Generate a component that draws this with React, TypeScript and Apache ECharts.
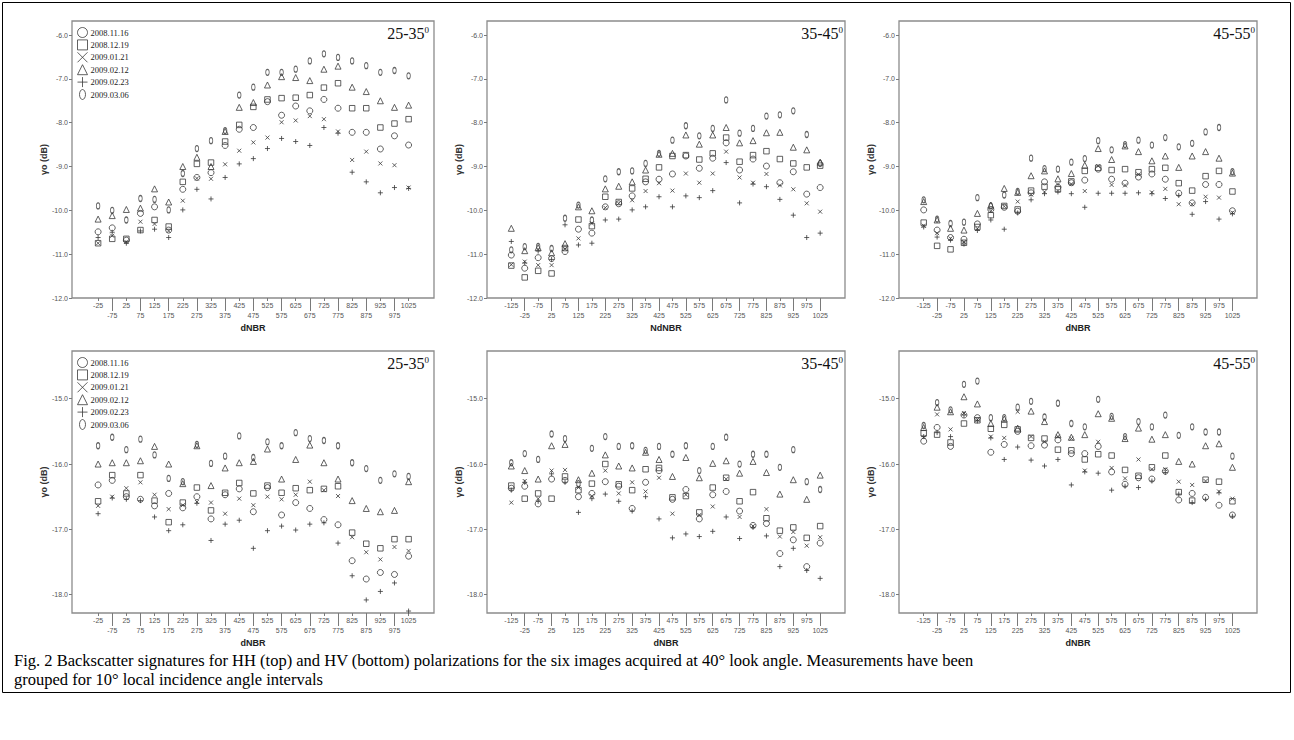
import { useEffect, useRef } from 'react';
import * as echarts from 'echarts';

const SERIES_NAMES = ['2008.11.16', '2008.12.19', '2009.01.21', '2009.02.12', '2009.02.23', '2009.03.06'];

const CATS_A = ['-25', '-75', '25', '75', '125', '175', '225', '275', '325', '375', '425', '475', '525', '575', '625', '675', '725', '775', '825', '875', '925', '975', '1025'];
const CATS_B = ['-125', '-25', '-75', '25', '75', '125', '175', '225', '275', '325', '375', '425', '475', '525', '575', '625', '675', '725', '775', '825', '875', '925', '975', '1025'];

const Y_TICKS_HH = [-12, -11, -10, -9, -8, -7, -6];
const Y_TICKS_HV = [-18, -17, -16, -15];

// HH 25-35
const HH2535_081116 = [-10.49, -10.40, -10.68, -10.07, -9.92, -10.45, -9.52, -9.25, -9.14, -8.52, -8.15, -8.11, -7.52, -7.83, -7.62, -7.73, -7.47, -7.67, -8.22, -8.22, -8.60, -8.30, -8.51];
const HH2535_081219 = [-10.75, -10.65, -10.65, -10.45, -10.22, -10.37, -9.35, -8.94, -8.91, -8.43, -8.05, -7.64, -7.47, -7.44, -7.43, -7.37, -7.20, -7.10, -7.67, -7.67, -8.11, -8.02, -7.92];
const HH2535_090121 = [-10.75, -10.58, -10.72, -10.26, -10.31, -10.47, -9.78, -9.27, -9.28, -8.95, -8.64, -8.45, -8.34, -7.99, -7.95, -7.85, -7.92, -8.20, -8.85, -8.66, -8.93, -8.97, -9.48];
const HH2535_090212 = [-10.20, -10.12, -9.98, -9.95, -9.51, -9.81, -9.00, -8.79, -9.00, -8.20, -7.65, -7.54, -7.14, -6.95, -6.97, -7.04, -6.78, -6.71, -7.19, -7.29, -7.50, -7.65, -7.60];
const HH2535_090223 = [-10.62, -10.50, -10.75, -10.47, -10.43, -10.62, -9.99, -9.52, -9.74, -9.25, -8.94, -8.82, -8.59, -8.36, -8.43, -8.52, -8.11, -8.24, -9.13, -9.35, -9.60, -9.48, -9.50];
const HH2535_090306 = [-9.90, -10.00, -10.22, -9.73, -9.75, -9.99, -9.16, -8.59, -8.41, -8.18, -7.37, -7.19, -6.85, -6.85, -6.78, -6.59, -6.43, -6.51, -6.59, -6.70, -6.85, -6.81, -6.93];

// HH 35-45
const HH3545_081116 = [-11.02, -11.32, -11.08, -11.10, -10.94, -10.43, -10.52, -9.92, -9.85, -9.67, -9.35, -9.29, -9.17, -8.76, -9.04, -8.81, -8.46, -9.08, -8.83, -8.99, -9.37, -9.12, -9.63, -9.48];
const HH3545_081219 = [-11.26, -11.53, -11.38, -11.44, -10.86, -10.21, -10.36, -9.69, -9.81, -9.50, -9.28, -9.02, -8.76, -8.74, -8.84, -8.70, -8.34, -8.89, -8.74, -8.65, -8.83, -8.93, -9.02, -8.98];
const HH3545_090121 = [-11.24, -11.17, -11.25, -11.25, -10.88, -10.64, -10.30, -9.94, -9.84, -9.77, -9.56, -9.38, -9.55, -9.16, -9.37, -9.16, -8.66, -9.25, -9.37, -9.17, -9.43, -9.52, -9.84, -10.03];
const HH3545_090212 = [-10.41, -10.92, -10.85, -10.97, -10.76, -9.92, -10.01, -9.51, -9.45, -9.35, -9.08, -8.72, -8.70, -8.28, -8.49, -8.28, -8.11, -8.46, -8.41, -8.23, -8.22, -8.56, -8.62, -8.90];
const HH3545_090223 = [-10.71, -11.20, -10.93, -11.12, -10.33, -10.79, -10.75, -10.22, -10.20, -9.99, -9.92, -9.69, -9.92, -9.67, -9.71, -9.55, -8.91, -9.83, -9.40, -9.46, -9.75, -10.11, -10.62, -10.52];
const HH3545_090306 = [-10.90, -10.83, -10.82, -10.87, -10.18, -9.88, -10.22, -9.28, -9.12, -9.10, -8.93, -8.70, -8.40, -8.07, -8.30, -8.13, -7.48, -8.24, -8.13, -7.85, -7.82, -7.73, -8.27, -8.93];

// HH 45-55
const HH4555_081116 = [-9.99, -10.45, -10.62, -10.66, -10.31, -9.98, -9.93, -10.02, -9.60, -9.35, -9.47, -9.37, -9.31, -9.06, -9.29, -9.38, -9.24, -9.17, -9.29, -9.61, -9.83, -9.41, -9.41, -10.01];
const HH4555_081219 = [-10.28, -10.81, -10.89, -10.74, -10.38, -10.11, -9.90, -9.98, -9.55, -9.46, -9.52, -9.34, -9.10, -9.03, -9.08, -9.06, -9.13, -9.06, -9.03, -9.38, -9.55, -9.22, -9.10, -9.57];
const HH4555_090121 = [-10.35, -10.52, -10.64, -10.72, -10.42, -10.02, -9.91, -9.80, -9.64, -9.58, -9.41, -9.40, -9.56, -8.99, -9.42, -9.43, -9.18, -9.59, -9.51, -9.86, -9.86, -9.69, -9.71, -10.05];
const HH4555_090212 = [-9.80, -10.22, -10.41, -10.45, -10.07, -9.88, -9.50, -9.59, -9.21, -9.10, -9.28, -9.16, -8.97, -8.59, -8.84, -8.53, -8.66, -8.87, -8.76, -9.02, -8.76, -8.66, -8.81, -9.15];
const HH4555_090223 = [-10.38, -10.61, -10.68, -10.77, -10.46, -10.22, -10.43, -10.06, -9.76, -9.62, -9.58, -9.62, -9.93, -9.61, -9.61, -9.61, -9.60, -9.62, -9.73, -9.66, -10.09, -9.80, -10.20, -10.08];
const HH4555_090306 = [-9.76, -10.20, -10.30, -10.27, -9.71, -9.90, -9.65, -9.57, -8.81, -9.05, -9.06, -8.90, -8.82, -8.41, -8.62, -8.50, -8.40, -8.51, -8.34, -8.55, -8.47, -8.21, -8.11, -9.12];

// HV 25-35
const HV2535_081116 = [-16.32, -16.25, -16.50, -16.54, -16.64, -16.45, -16.67, -16.50, -16.84, -16.47, -16.38, -16.73, -16.36, -16.78, -16.59, -16.68, -16.85, -16.93, -17.48, -17.76, -17.66, -17.69, -17.41];
const HV2535_081219 = [-16.57, -16.17, -16.45, -16.17, -16.56, -16.89, -16.59, -16.36, -16.71, -16.44, -16.29, -16.45, -16.33, -16.44, -16.37, -16.40, -16.38, -16.34, -17.05, -17.22, -17.29, -17.15, -17.15];
const HV2535_090121 = [-16.64, -16.50, -16.37, -16.28, -16.47, -16.69, -16.63, -16.58, -16.59, -16.76, -16.53, -16.63, -16.50, -16.54, -16.47, -16.27, -16.40, -16.49, -17.12, -17.35, -17.46, -17.27, -17.33];
const HV2535_090212 = [-16.00, -15.98, -15.98, -15.95, -15.73, -16.00, -16.30, -15.72, -16.33, -16.06, -15.98, -15.96, -15.77, -16.23, -15.93, -15.71, -15.98, -16.23, -16.56, -16.68, -16.73, -16.71, -16.27];
const HV2535_090223 = [-16.76, -16.52, -16.54, -16.56, -16.81, -17.02, -16.93, -16.60, -17.17, -16.92, -16.86, -17.29, -17.02, -16.95, -17.01, -16.92, -16.90, -17.21, -17.71, -18.08, -17.95, -17.82, -18.25];
const HV2535_090306 = [-15.72, -15.59, -15.78, -15.62, -15.86, -16.22, -16.27, -15.70, -15.99, -15.88, -15.57, -15.90, -15.66, -15.72, -15.52, -15.61, -15.64, -15.72, -15.98, -16.07, -16.25, -16.15, -16.19];

// HV 35-45
const HV3545_081116 = [-16.37, -16.34, -16.61, -16.23, -16.25, -16.50, -16.45, -16.27, -16.34, -16.68, -16.28, -16.10, -16.54, -16.39, -16.84, -16.47, -16.42, -16.72, -16.94, -16.91, -17.37, -17.16, -17.57, -17.21];
const HV3545_081219 = [-16.33, -16.53, -16.45, -16.53, -16.19, -16.40, -16.30, -16.00, -16.31, -16.40, -16.08, -16.06, -16.51, -16.49, -16.74, -16.36, -16.21, -16.57, -16.43, -16.83, -17.02, -16.97, -17.13, -16.95];
const HV3545_090121 = [-16.59, -16.26, -16.53, -16.10, -16.09, -16.36, -16.49, -16.10, -16.45, -16.28, -16.42, -16.21, -16.76, -16.47, -16.78, -16.65, -16.23, -16.81, -16.95, -16.69, -17.11, -17.04, -17.25, -17.12];
const HV3545_090212 = [-16.03, -16.10, -16.23, -15.72, -15.70, -16.24, -16.14, -15.86, -16.03, -16.06, -15.82, -15.93, -16.19, -15.90, -16.21, -15.99, -15.95, -16.14, -15.96, -16.13, -16.46, -16.24, -16.54, -16.17];
const HV3545_090223 = [-16.40, -16.28, -16.57, -16.15, -16.28, -16.74, -16.53, -16.46, -16.57, -16.72, -16.50, -16.84, -17.13, -17.07, -17.11, -17.03, -16.81, -17.14, -16.97, -17.10, -17.57, -17.29, -17.63, -17.75];
const HV3545_090306 = [-15.98, -15.84, -15.93, -15.54, -15.61, -16.30, -15.76, -15.58, -15.73, -15.72, -15.79, -15.73, -15.85, -15.72, -16.10, -15.73, -15.59, -16.00, -15.85, -15.85, -16.05, -15.78, -16.27, -16.39];

// HV 45-55
const HV4555_081116 = [-15.65, -15.44, -15.73, -15.25, -15.29, -15.82, -15.70, -15.50, -15.72, -15.71, -15.63, -15.84, -15.84, -15.73, -16.12, -16.31, -16.21, -16.23, -16.11, -16.55, -16.45, -16.51, -16.63, -16.78];
const HV4555_081219 = [-15.53, -15.55, -15.67, -15.38, -15.33, -15.46, -15.40, -15.47, -15.60, -15.61, -15.78, -15.79, -15.93, -15.85, -15.87, -16.09, -16.18, -16.05, -15.87, -16.43, -16.56, -16.24, -16.27, -16.57];
const HV4555_090121 = [-15.59, -15.24, -15.47, -15.22, -15.32, -15.58, -15.60, -15.20, -15.58, -15.66, -15.58, -15.61, -16.10, -15.66, -16.06, -16.22, -15.93, -16.08, -16.08, -16.27, -16.32, -16.26, -16.42, -16.53];
const HV4555_090212 = [-15.44, -15.13, -15.20, -14.97, -15.08, -15.38, -15.31, -15.45, -15.19, -15.35, -15.55, -15.59, -15.55, -15.23, -15.30, -15.61, -15.45, -15.62, -15.55, -15.96, -16.00, -15.72, -15.69, -16.05];
const HV4555_090223 = [-15.58, -15.52, -15.58, -15.25, -15.34, -15.60, -15.93, -15.74, -15.94, -16.03, -15.93, -16.32, -16.12, -16.14, -16.40, -16.34, -16.36, -16.26, -16.13, -16.46, -16.59, -16.54, -16.44, -16.80];
const HV4555_090306 = [-15.41, -15.06, -15.17, -14.78, -14.73, -15.29, -15.29, -15.13, -15.04, -15.28, -15.07, -15.38, -15.43, -15.01, -15.27, -15.58, -15.35, -15.43, -15.25, -15.56, -15.43, -15.51, -15.51, -15.88];

const MARKERS: any[] = [
  { symbol: 'circle', size: 6 },
  { symbol: 'rect', size: 5.5 },
  { symbol: 'path://M0,0L10,10M10,0L0,10', size: 4 },
  { symbol: 'triangle', size: 6 },
  { symbol: 'path://M5,0L5,10M0,5L10,5', size: 5 },
  { symbol: 'path://M5,0A3,5,0,1,0,5,10A3,5,0,1,0,5,0Z', size: [3.5, 6] },
];

const PANELS = [
  { title: '25-35', xName: 'dNBR', cats: CATS_A, left: 72, top: 21, width: 362, height: 277, xMin: -1.85, xMax: 23.8, yMin: -12, yMax: -5.68, yTicks: Y_TICKS_HH, legend: true, tInset: 5,
    data: [HH2535_081116, HH2535_081219, HH2535_090121, HH2535_090212, HH2535_090223, HH2535_090306] },
  { title: '35-45', xName: 'NdNBR', cats: CATS_B, left: 487, top: 21, width: 358, height: 277, xMin: -1.81, xMax: 24.85, yMin: -12, yMax: -5.68, yTicks: Y_TICKS_HH, legend: false, tInset: 2,
    data: [HH3545_081116, HH3545_081219, HH3545_090121, HH3545_090212, HH3545_090223, HH3545_090306] },
  { title: '45-55', xName: 'dNBR', cats: CATS_B, left: 899, top: 21, width: 358, height: 277, xMin: -1.84, xMax: 24.83, yMin: -12, yMax: -5.68, yTicks: Y_TICKS_HH, legend: false, tInset: 2,
    data: [HH4555_081116, HH4555_081219, HH4555_090121, HH4555_090212, HH4555_090223, HH4555_090306] },
  { title: '25-35', xName: 'dNBR', cats: CATS_A, left: 72, top: 351, width: 362, height: 262, xMin: -1.85, xMax: 23.8, yMin: -18.28, yMax: -14.27, yTicks: Y_TICKS_HV, legend: true, tInset: 5,
    data: [HV2535_081116, HV2535_081219, HV2535_090121, HV2535_090212, HV2535_090223, HV2535_090306] },
  { title: '35-45', xName: 'dNBR', cats: CATS_B, left: 487, top: 351, width: 358, height: 262, xMin: -1.81, xMax: 24.85, yMin: -18.28, yMax: -14.27, yTicks: Y_TICKS_HV, legend: false, tInset: 2,
    data: [HV3545_081116, HV3545_081219, HV3545_090121, HV3545_090212, HV3545_090223, HV3545_090306] },
  { title: '45-55', xName: 'dNBR', cats: CATS_B, left: 899, top: 351, width: 358, height: 262, xMin: -1.84, xMax: 24.83, yMin: -18.28, yMax: -14.27, yTicks: Y_TICKS_HV, legend: false, tInset: 2,
    data: [HV4555_081116, HV4555_081219, HV4555_090121, HV4555_090212, HV4555_090223, HV4555_090306] },
];

const CAPTION_1 = 'Fig. 2 Backscatter signatures for HH (top) and HV (bottom) polarizations for the six images acquired at 40° look angle. Measurements have been';
const CAPTION_2 = 'grouped for 10° local incidence angle intervals';

const AXIS_GRAY = '#7a7a7a';
const LABEL_GRAY = '#555';
const MARK = '#3a3a3a';

function buildOption() {
  const grid: any[] = [];
  const xAxis: any[] = [];
  const yAxis: any[] = [];
  const series: any[] = [];
  const legend: any[] = [];
  const title: any[] = [];

  PANELS.forEach((p, i) => {
    grid.push({ left: p.left, top: p.top, width: p.width, height: p.height, show: true, borderColor: '#8c8c8c', borderWidth: 1.3, backgroundColor: 'transparent' });
    const even = p.cats.map((_, k) => k).filter((k) => k % 2 === 0);
    const odd = p.cats.map((_, k) => k).filter((k) => k % 2 === 1);
    const fmt = (v: number) => p.cats[Math.round(v)] ?? '';
    const common = {
      type: 'value', gridIndex: i, min: p.xMin, max: p.xMax, position: 'bottom',
      axisLine: { show: false, onZero: false }, splitLine: { show: false },
    };
    xAxis.push({
      ...common,
      axisTick: { show: true, length: 3, customValues: even, lineStyle: { color: AXIS_GRAY, width: 1 } },
      axisLabel: { customValues: even, formatter: fmt, margin: 4, fontSize: 7, color: LABEL_GRAY, fontFamily: 'Liberation Sans' },
      name: p.xName, nameLocation: 'middle', nameGap: 25,
      nameTextStyle: { fontFamily: 'Liberation Sans', fontWeight: 'bold', fontSize: 9, color: '#222' },
    });
    xAxis.push({
      ...common,
      axisTick: { show: true, length: 13, customValues: odd, lineStyle: { color: AXIS_GRAY, width: 1 } },
      axisLabel: { customValues: odd, formatter: fmt, margin: 14, fontSize: 7, color: LABEL_GRAY, fontFamily: 'Liberation Sans' },
    });
    yAxis.push({
      type: 'value', gridIndex: i, min: p.yMin, max: p.yMax,
      axisLine: { show: false, onZero: false }, splitLine: { show: false },
      axisTick: { show: true, length: 3, customValues: p.yTicks, lineStyle: { color: AXIS_GRAY, width: 1 } },
      axisLabel: { customValues: p.yTicks, formatter: (v: number) => v.toFixed(1), margin: 4, fontSize: 7, color: LABEL_GRAY, fontFamily: 'Liberation Sans' },
      name: 'γo (dB)', nameLocation: 'middle', nameGap: 22,
      nameTextStyle: { fontFamily: 'Liberation Sans', fontWeight: 'bold', fontSize: 9, color: '#333' },
    });
    p.data.forEach((vals, s) => {
      const m = MARKERS[s];
      series.push({
        type: 'scatter', name: SERIES_NAMES[s], xAxisIndex: 2 * i, yAxisIndex: i,
        data: vals.map((v, k) => [k, v]),
        symbol: m.symbol, symbolSize: m.size, clip: false,
        itemStyle: { color: 'transparent', borderColor: MARK, borderWidth: 1 },
        emphasis: { disabled: true },
      });
    });
    if (p.legend) {
      legend.push({
        data: SERIES_NAMES, orient: 'vertical', left: p.left + 5, top: p.top + 6,
        itemWidth: 10, itemHeight: 10, itemGap: 1.4, padding: 0, selectedMode: false,
        itemStyle: { borderWidth: 1 },
        textStyle: { fontFamily: 'Liberation Serif', fontSize: 8.5, color: '#222', padding: [0, 0, 0, -2] },
      });
    }
    title.push({
      text: `{a|${p.title}}{b|0}`,
      right: 1294 - (p.left + p.width) + p.tInset,
      top: p.top + 4,
      padding: 0,
      textStyle: {
        fontWeight: 'normal',
        rich: {
          a: { fontFamily: 'Liberation Serif', fontSize: 16, fontWeight: 'normal', color: '#111' },
          b: { fontFamily: 'Liberation Serif', fontSize: 9, fontWeight: 'normal', color: '#111', verticalAlign: 'top', padding: [0, 0, 8, 0] },
        },
      },
    });
  });

  return {
    animation: false,
    backgroundColor: '#fff',
    grid, xAxis, yAxis, series, legend, title,
    graphic: [
      { type: 'rect', silent: true, shape: { x: 2.5, y: 2.5, width: 1288, height: 690 }, style: { fill: 'none', stroke: '#000', lineWidth: 1 } },
      { type: 'text', silent: true, left: 14, top: 652, style: { text: CAPTION_1, font: '16.5px "Liberation Serif"', fill: '#000' } },
      { type: 'text', silent: true, left: 14, top: 671, style: { text: CAPTION_2, font: '16.5px "Liberation Serif"', fill: '#000' } },
    ],
  };
}

export default function App() {
  const ref = useRef<HTMLDivElement>(null);
  useEffect(() => {
    if (!ref.current) return;
    const chart = echarts.init(ref.current, null, { renderer: 'svg' });
    chart.setOption(buildOption() as any);
    return () => chart.dispose();
  }, []);
  return <div ref={ref} style={{ position: 'fixed', left: 0, top: 0, width: 1294, height: 740, background: '#fff' }} />;
}
